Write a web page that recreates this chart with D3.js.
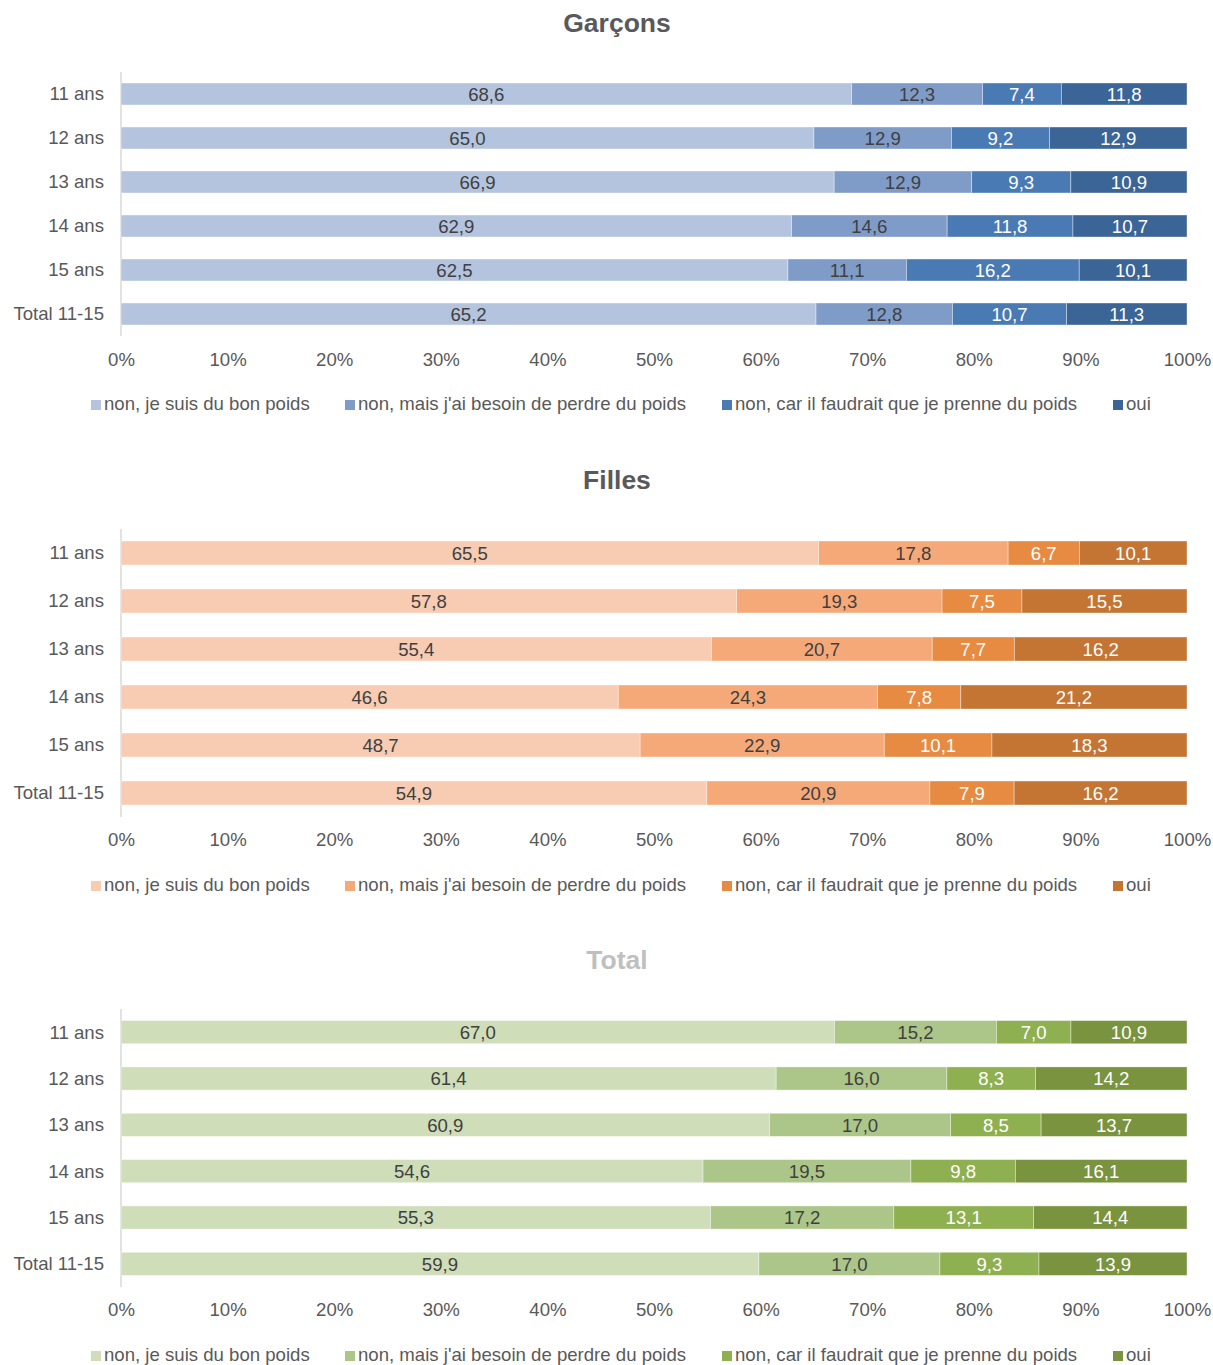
<!DOCTYPE html>
<html><head><meta charset="utf-8">
<script src="https://cdn.jsdelivr.net/npm/d3@7"></script>
<style>body{margin:0;background:#fff;} svg{display:block;font-family:"Liberation Sans",Arial,sans-serif;}</style>
</head><body>
<svg id="chart" width="1213" height="1365"></svg>
<script>
const categories = ["11 ans","12 ans","13 ans","14 ans","15 ans","Total 11-15"];
const seriesNames = ["non, je suis du bon poids","non, mais j'ai besoin de perdre du poids","non, car il faudrait que je prenne du poids","oui"];
const tickLabels = ["0%","10%","20%","30%","40%","50%","60%","70%","80%","90%","100%"];
const garconsValues = [
  [68.6,12.3,7.4,11.8],
  [65.0,12.9,9.2,12.9],
  [66.9,12.9,9.3,10.9],
  [62.9,14.6,11.8,10.7],
  [62.5,11.1,16.2,10.1],
  [65.2,12.8,10.7,11.3]
];
const fillesValues = [
  [65.5,17.8,6.7,10.1],
  [57.8,19.3,7.5,15.5],
  [55.4,20.7,7.7,16.2],
  [46.6,24.3,7.8,21.2],
  [48.7,22.9,10.1,18.3],
  [54.9,20.9,7.9,16.2]
];
const totalValues = [
  [67.0,15.2,7.0,10.9],
  [61.4,16.0,8.3,14.2],
  [60.9,17.0,8.5,13.7],
  [54.6,19.5,9.8,16.1],
  [55.3,17.2,13.1,14.4],
  [59.9,17.0,9.3,13.9]
];
const panels = [
  {title:"Garçons", titleColor:"#595959", values:garconsValues, colors:["#b4c4de","#7f9cc8","#4a7ab4","#3b6497"],
   titleY:25, top:72, bottom:336, tickY:360, legendY:405},
  {title:"Filles", titleColor:"#595959", values:fillesValues, colors:["#f8cbb3","#f6a978","#e68b41","#c47534"],
   titleY:482, top:529, bottom:817, tickY:840, legendY:886},
  {title:"Total", titleColor:"#bfbfbf", values:totalValues, colors:["#cfddb9","#acc689","#8fb050","#79933f"],
   titleY:962, top:1009, bottom:1287, tickY:1310, legendY:1356}
];
const svg = d3.select("#chart");
const x = d3.scaleLinear().domain([0,1]).range([121,1187]);
const legendX = [91,345,722,1113];
const labelColors = ["#404040","#404040","#ffffff","#ffffff"];
const FS = 18.6;

panels.forEach(p => {
  const g = svg.append("g");
  g.append("text").attr("x",617).attr("y",p.titleY).attr("text-anchor","middle").attr("dominant-baseline","middle")
    .attr("font-size",26.5).attr("font-weight","bold").attr("fill",p.titleColor).text(p.title);
  const y = d3.scaleBand().domain(categories).range([p.top,p.bottom]).paddingInner(0.5).paddingOuter(0.25);
  g.append("line").attr("x1",121).attr("x2",121).attr("y1",p.top).attr("y2",p.bottom).attr("stroke","#d9d9d9").attr("stroke-width",1.5);
  categories.forEach((c,i) => {
    const vals = p.values[i];
    const sum = d3.sum(vals);
    let acc = 0;
    vals.forEach((v,j) => {
      const x0 = x(acc/sum), x1 = x((acc+v)/sum);
      acc += v;
      g.append("rect").attr("x",x0).attr("y",y(c)).attr("width",x1-x0).attr("height",y.bandwidth())
        .attr("fill",p.colors[j]).attr("stroke","#ffffff").attr("stroke-opacity",0.5).attr("stroke-width",0.75);
      g.append("text").attr("x",(x0+x1)/2).attr("y",y(c)+y.bandwidth()/2+2).attr("text-anchor","middle")
        .attr("dominant-baseline","middle").attr("font-size",FS).attr("fill",labelColors[j])
        .text(d3.format(".1f")(v).replace(".",","));
    });
    g.append("text").attr("x",104).attr("y",y(c)+y.bandwidth()/2+1.5).attr("text-anchor","end")
      .attr("dominant-baseline","middle").attr("font-size",FS).attr("fill","#595959").text(c);
  });
  const axis = d3.axisBottom(x).tickValues(d3.range(0,11).map(d=>d/10)).tickFormat((d,i)=>tickLabels[i]).tickSize(0);
  const ag = g.append("g").attr("transform",`translate(0,${p.tickY-12})`).call(axis);
  ag.select(".domain").remove();
  ag.selectAll("text").attr("font-size",FS).attr("fill","#595959").attr("font-family","Liberation Sans, Arial, sans-serif").attr("dy","0.32em").attr("y",12);
  seriesNames.forEach((s,j) => {
    g.append("rect").attr("x",legendX[j]).attr("y",p.legendY-5).attr("width",10).attr("height",10).attr("fill",p.colors[j]);
    g.append("text").attr("x",legendX[j]+13).attr("y",p.legendY).attr("dominant-baseline","middle")
      .attr("font-size",FS).attr("fill","#595959").text(s);
  });
});
</script>
</body></html>
